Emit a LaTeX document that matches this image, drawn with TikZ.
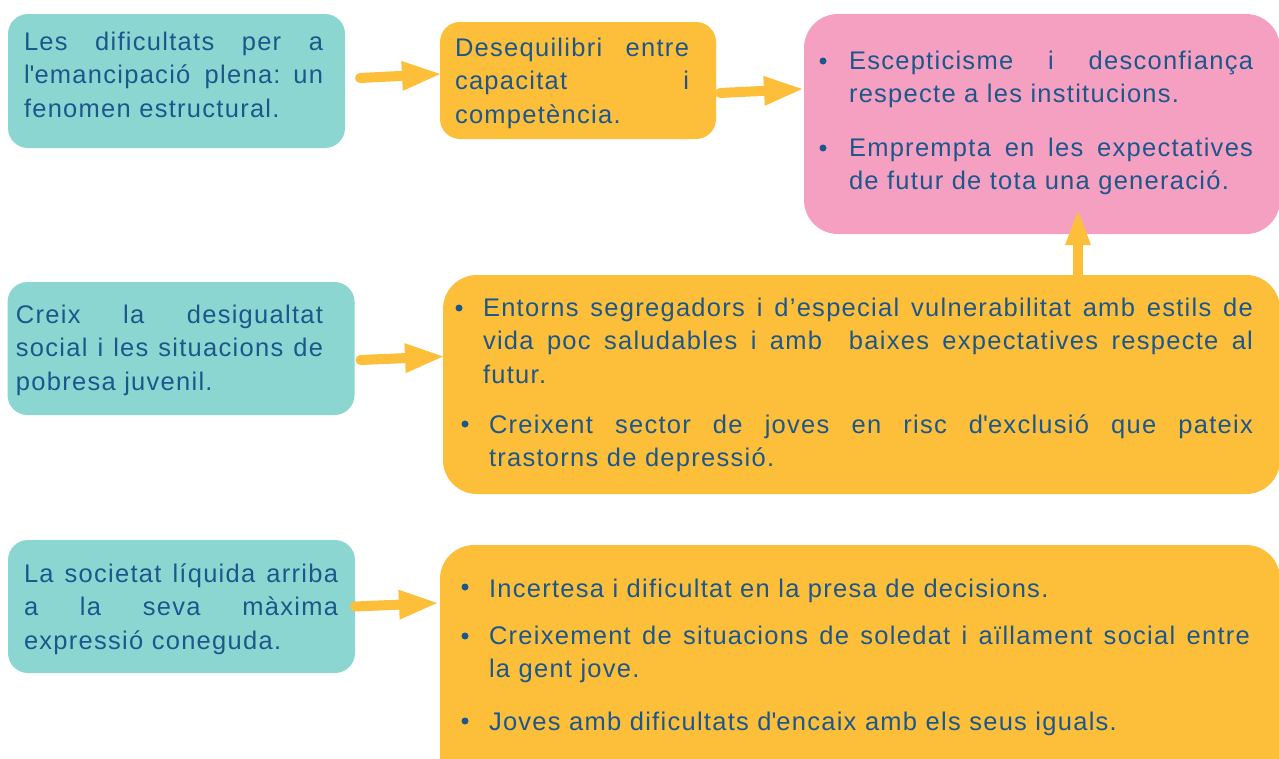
\documentclass[tikz,border=0pt]{standalone}
\usepackage{fontspec}
\setmainfont{Liberation Sans}[LetterSpace=5]
\usetikzlibrary{arrows.meta}
\definecolor{tealbg}{HTML}{8CD6D2}
\definecolor{ylw}{HTML}{FDBE3A}
\definecolor{pinkbg}{HTML}{F59FC1}
\definecolor{ink}{HTML}{1C578C}
\newcommand\jl[2]{\leavevmode\hbox to #1{\spaceskip=0.3em plus 1fil\relax #2}}
\newcommand\fl{\rule{0pt}{24pt}}
\begin{document}
\begin{tikzpicture}[x=1pt,y=-1pt,
  bg/.style={draw=none, rounded corners=#1, inner sep=0pt, outer sep=0pt},
  tbox/.style={bg=20pt, fill=tealbg},
  ybox/.style={bg=20pt, fill=ylw},
  ybig/.style={bg=34pt, fill=ylw},
  pbox/.style={bg=34pt, fill=pinkbg},
  txt/.style={anchor=north west, inner sep=0pt, outer sep=0pt, align=left, text=ink,
    font=\fontsize{25.5pt}{33.5pt}\selectfont},
  dot/.style={circle, fill=ink, inner sep=0pt, minimum size=7pt},
  arr/.style={draw=ylw, line width=10pt, line cap=round,
    -{Triangle[length=38pt,width=30pt,line width=0pt]}},
  varr/.style={draw=ylw, line width=10pt,
    -{Triangle[length=34pt,width=26pt,line width=0pt]}}
]
\useasboundingbox (0,0) rectangle (1279,758);
\clip (0,0) rectangle (1279,758);

% boxes
\node[tbox, minimum width=337pt, minimum height=134pt] (t1) at (176.5,81) {};
\node[ybox, minimum width=276pt, minimum height=117pt] (y1) at (578,80.5) {};
\node[pbox, minimum width=476pt, minimum height=220pt] (pk) at (1042,124) {};
\node[tbox, minimum width=347pt, minimum height=133pt] (t2) at (181,348.5) {};
\node[ybig, minimum width=837pt, minimum height=219pt] (y2) at (861.5,384.5) {};
\node[tbox, minimum width=347pt, minimum height=133pt] (t3) at (181.5,606.5) {};
\node[ybig, minimum width=840pt, minimum height=255pt] (y3) at (860,672.5) {};

% texts
\node[txt, text width=299pt] (tx1) at (24,26)
  {\fl\jl{299pt}{Les dificultats per a}\\\jl{299pt}{l\textquotesingle emancipació plena: un}\\fenomen estructural.};
\node[txt, text width=235pt] (tx2) at (455,32)
  {\fl\jl{234pt}{Desequilibri entre}\\\jl{234pt}{capacitat i}\\competència.};

\node[dot] (d1) at (823,61) {};
\node[txt, text width=404pt] (tx3) at (849,45)
  {\fl\jl{404pt}{Escepticisme i desconfiança}\\respecte a les institucions.};
\node[dot] (d2) at (823,148) {};
\node[txt, text width=404pt] (tx4) at (849,132)
  {\fl\jl{404pt}{Emprempta en les expectatives}\\de futur de tota una generació.};

\node[txt, text width=307pt] (tx5) at (16,299)
  {\fl\jl{307pt}{Creix la desigualtat}\\\jl{307pt}{social i les situacions de}\\pobresa juvenil.};

\node[dot] (d3) at (459,308) {};
\node[txt, text width=770pt] (tx6) at (483,292)
  {\fl\jl{770pt}{Entorns segregadors i d’especial vulnerabilitat amb estils de}\\\jl{770pt}{vida poc saludables i amb \ baixes expectatives respecte al}\\futur.};
\node[dot] (d4) at (465,424) {};
\node[txt, text width=764pt] (tx7) at (489,409)
  {\fl\jl{764pt}{Creixent sector de joves en risc d\textquotesingle exclusió que pateix}\\trastorns de depressió.};

\node[txt, text width=314pt] (tx8) at (24,558)
  {\fl\jl{314pt}{La societat líquida arriba}\\\jl{314pt}{a la seva màxima}\\expressió coneguda.};

\node[dot] (d5) at (465,587) {};
\node[txt, text width=761pt] (tx9) at (489,573)
  {\fl Incertesa i dificultat en la presa de decisions.};
\node[dot] (d6) at (465,636) {};
\node[txt, text width=761pt] (tx10) at (489,620)
  {\fl\jl{761pt}{Creixement de situacions de soledat i aïllament social entre}\\la gent jove.};
\node[dot] (d7) at (465,721) {};
\node[txt, text width=761pt] (tx11) at (489,706)
  {\fl Joves amb dificultats d\textquotesingle encaix amb els seus iguals.};

% arrows
\draw[arr] ([xshift=15pt,yshift=3pt]t1.east) -- ([yshift=6.5pt]y1.west);
\draw[arr] ([xshift=4pt,yshift=-12.5pt]y1.east) -- ([xshift=-2pt,yshift=35pt]pk.west);
\draw[arr] ([xshift=6pt,yshift=-11.5pt]t2.east) -- ([yshift=28pt]y2.west);
\draw[arr] ([xshift=0pt,yshift=0pt]t3.east) -- ([xshift=-3pt,yshift=69.5pt]y3.west);
\draw[varr] ([xshift=36pt]pk.south |- y2.north) -- ([xshift=36pt,yshift=23pt]pk.south);
\end{tikzpicture}
\end{document}
